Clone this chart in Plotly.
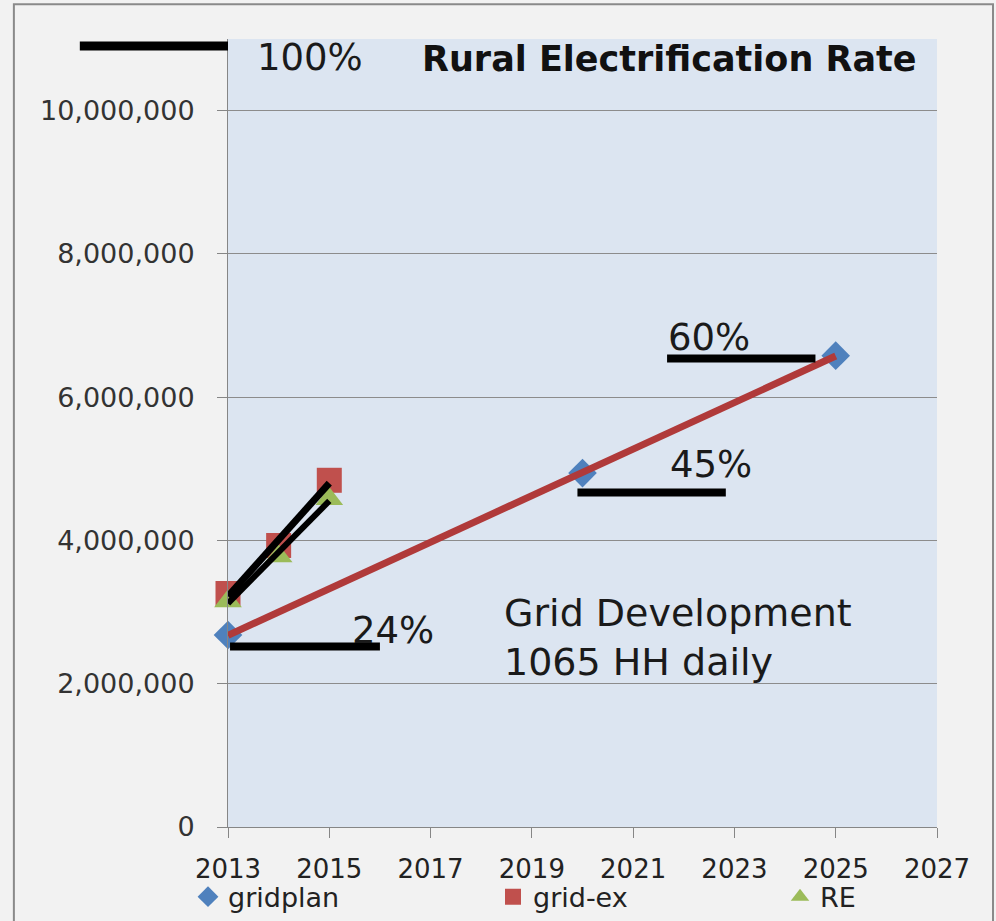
import numpy as np
import plotly.graph_objects as go

# Households electrified (rural), by year
gridplan_years = [2013, 2020, 2025]
gridplan_hh = [2680000, 4940000, 6580000]

gridex_years = [2013, 2014, 2015]
gridex_hh = [3260000, 3930000, 4840000]

re_years = [2013, 2014, 2015]
re_hh = [3150000, 3780000, 4580000]

# Electrification-rate milestones: label, bar start/end year, bar level
rate_labels = ["24%", "45%", "60%"]
rate_bar_x0 = [2013.04, 2019.9, 2021.67]
rate_bar_x1 = [2016.0, 2022.83, 2024.6]
rate_bar_y = [2520000, 4670000, 6540000]
rate_label_x = [2015.41, 2021.69, 2021.65]
rate_label_y = [2745000, 5065000, 6840000]

FONT = "DejaVu Sans"
PLOT_L, PLOT_W = 228, 709  # plot-area left edge and width in pixels


def linear_trend(xs, ys):
    """Least-squares linear trendline evaluated at the first and last x."""
    slope, intercept = np.polyfit(xs, ys, 1)
    ends = np.array([xs[0], xs[-1]], dtype=float)
    return ends, slope * ends + intercept


def px_to_paper_x(px):
    return (px - PLOT_L) / PLOT_W


fig = go.Figure()

fig.add_trace(go.Scatter(
    x=gridplan_years, y=gridplan_hh, mode="markers", name="gridplan", legend="legend",
    marker=dict(symbol="diamond", size=22, color="#4f81bd"), cliponaxis=False,
))
fig.add_trace(go.Scatter(
    x=gridex_years, y=gridex_hh, mode="markers", name="grid-ex", legend="legend2",
    marker=dict(symbol="square", size=25, color="#c0504d"), cliponaxis=False,
))
fig.add_trace(go.Scatter(
    x=re_years, y=re_hh, mode="markers", name="RE", legend="legend3",
    marker=dict(symbol="triangle-up", size=24, color="#9bbb59"), cliponaxis=False,
))

# Trendlines
tx, ty = linear_trend(gridplan_years, gridplan_hh)
fig.add_trace(go.Scatter(x=tx, y=ty, mode="lines", showlegend=False,
                         line=dict(color="#b03a3a", width=7), hoverinfo="skip"))
tx, ty = linear_trend(gridex_years, gridex_hh)
fig.add_trace(go.Scatter(x=tx, y=ty, mode="lines", showlegend=False,
                         line=dict(color="black", width=7), hoverinfo="skip"))
tx, ty = linear_trend(re_years, re_hh)
fig.add_trace(go.Scatter(x=tx, y=ty, mode="lines", showlegend=False,
                         line=dict(color="black", width=6), hoverinfo="skip"))

shapes = [
    # chart frame
    dict(type="rect", xref="paper", yref="paper",
         x0=-0.302, x1=1.079, y0=-0.3, y1=1.044,
         line=dict(color="#8a8a8a", width=2), fillcolor="rgba(0,0,0,0)", layer="below"),
    # 100% bar
    dict(type="line", xref="paper", yref="paper", x0=-0.209, x1=0.0, y0=0.991, y1=0.991,
         line=dict(color="black", width=9)),
]
for x0, x1, y in zip(rate_bar_x0, rate_bar_x1, rate_bar_y):
    shapes.append(dict(type="line", xref="x", yref="y", x0=x0, x1=x1, y0=y, y1=y,
                       line=dict(color="black", width=8)))

annotations = [
    dict(x=2013.53, y=10740000, text="100%", xanchor="left", yanchor="middle",
         showarrow=False, font=dict(family=FONT, size=37, color="#1a1a1a")),
    dict(x=2016.79, y=10720000, text="<b>Rural Electrification Rate</b>",
         xanchor="left", yanchor="middle", showarrow=False,
         font=dict(family=FONT, size=35, color="#111111")),
    dict(x=2018.41, y=2650000, text="Grid Development<br>1065 HH daily",
         xanchor="left", yanchor="middle", align="left", showarrow=False,
         font=dict(family=FONT, size=38, color="#1a1a1a")),
]
for lab, x, y in zip(rate_labels, rate_label_x, rate_label_y):
    annotations.append(dict(x=x, y=y, text=lab, xanchor="left", yanchor="middle",
                            showarrow=False,
                            font=dict(family=FONT, size=37, color="#1a1a1a")))

legend_common = dict(orientation="h", y=-0.089, xanchor="left", yanchor="middle",
                     itemsizing="trace", bgcolor="rgba(0,0,0,0)",
                     font=dict(family=FONT, size=27, color="#222222"))

fig.update_layout(
    width=996, height=921,
    margin=dict(l=PLOT_L, r=59, t=39, b=94, autoexpand=False),
    paper_bgcolor="#f2f2f2",
    plot_bgcolor="#dce5f1",
    font=dict(family=FONT, size=26, color="#333333"),
    shapes=shapes,
    annotations=annotations,
    showlegend=True,
    legend=dict(x=px_to_paper_x(188), **legend_common),
    legend2=dict(x=px_to_paper_x(493), **legend_common),
    legend3=dict(x=px_to_paper_x(780), **legend_common),
)

fig.update_xaxes(
    range=[2013, 2027], tick0=2013, dtick=2, showgrid=False, zeroline=False,
    showline=True, linecolor="#868686", linewidth=1, automargin=False,
    ticks="outside", ticklen=10, tickcolor="#868686", ticklabelstandoff=9,
    tickfont=dict(family=FONT, size=26, color="#222222"),
)
fig.update_yaxes(
    range=[0, 11000000], tick0=0, dtick=2000000, tickformat=",d",
    showgrid=True, gridcolor="#8c8c8c", gridwidth=1, zeroline=False,
    showline=True, linecolor="#868686", linewidth=1, automargin=False,
    ticks="outside", ticklen=10, tickcolor="#868686", ticklabelstandoff=17,
    tickfont=dict(family=FONT, size=27, color="#333333"),
)

fig.write_html("out.html")
